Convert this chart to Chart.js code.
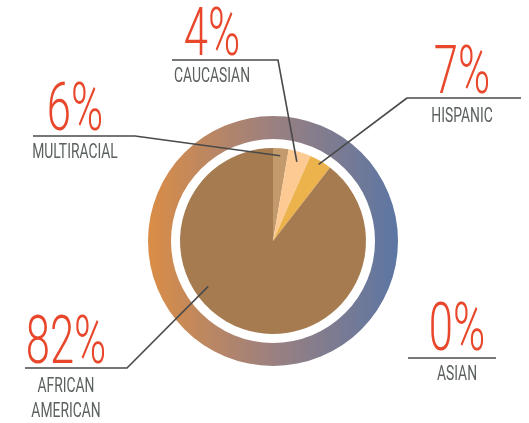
<!DOCTYPE html>
<html>
<head>
<meta charset="utf-8">
<script src="https://cdn.jsdelivr.net/npm/chart.js@4.4.1/dist/chart.umd.min.js"></script>
<style>
  html, body { margin:0; padding:0; background:#fff; }
  #wrap { width:529px; height:423px; position:relative; }
</style>
</head>
<body>
<div id="wrap"><canvas id="c"></canvas></div>
<script>
// ── DATA ─────────────────────────────────────────────
const groups      = ['MULTIRACIAL', 'CAUCASIAN', 'HISPANIC', 'AFRICAN AMERICAN', 'ASIAN'];
const shareLabels = ['6%', '4%', '7%', '82%', '0%'];
// slice sizes as drawn in the picture (they do not follow the printed percentages)
const sliceValues = [2.7, 3.9, 3.9, 89.5, 0];
const sliceColors = ['#c39a6b', '#fdca94', '#ecb24c', '#a67b50', '#7a8fb0'];

// ── LABEL LAYOUT ─────────────────────────────────────
// cx: centre of the text block, base: baseline of the big number,
// line: underline [x1, x2, y], lines: name rows with baselines,
// anchor: where the leader meets the pie (angle from top, share of radius)
const layout = [
  { cx: 75,  base: 130, line: [33, 135, 136],  lines: [['MULTIRACIAL', 158]],              anchor: { angle: null, r: 0.92 } },
  { cx: 212, base: 55,  line: [172, 278, 60],  lines: [['CAUCASIAN', 82]],                 anchor: { angle: null, r: 0.89 } },
  { cx: 462, base: 93,  line: [407, 521, 98],  lines: [['HISPANIC', 122]],                 anchor: { angle: null, r: 0.96 }, from: 'left' },
  { cx: 66,  base: 363, line: [25, 127, 368],  lines: [['AFRICAN', 392], ['AMERICAN', 417]], anchor: { angle: 235, r: 0.85 } },
  { cx: 457, base: 350, line: [408, 496, 358], lines: [['ASIAN', 380]],                    anchor: null }
];

const RED = '#e8472b', GREY = '#5b6160', LEAD = '#4a4a4a';
const SQUEEZE = 0.66;

function squeezedText(ctx, txt, x, y) {
  ctx.save();
  ctx.translate(x, y);
  ctx.scale(SQUEEZE, 1);
  ctx.textAlign = 'center';
  ctx.textBaseline = 'alphabetic';
  ctx.fillText(txt, 0, 0);
  ctx.restore();
}

const calloutPlugin = {
  id: 'callouts',
  afterDatasetsDraw(chart) {
    const ctx = chart.ctx;
    const meta = chart.getDatasetMeta(2);
    let cum = 0;
    const total = sliceValues.reduce((s, v) => s + v, 0);
    layout.forEach((L, i) => {
      const mid = (cum + sliceValues[i] / 2) / total * 360;
      cum += sliceValues[i];

      // leader line
      const [x1, x2, y] = L.line;
      ctx.save();
      ctx.strokeStyle = LEAD;
      ctx.lineWidth = 1.6;
      ctx.beginPath();
      ctx.moveTo(x1, y);
      ctx.lineTo(x2, y);
      if (L.anchor) {
        const arc = meta.data[i];
        const ang = (L.anchor.angle == null ? mid : L.anchor.angle) * Math.PI / 180;
        const R = arc.outerRadius * L.anchor.r;
        const ax = arc.x + R * Math.sin(ang), ay = arc.y - R * Math.cos(ang);
        if (L.from === 'left') { ctx.moveTo(x1, y); }
        ctx.lineTo(ax, ay);
      }
      ctx.stroke();
      ctx.restore();

      // big number
      ctx.fillStyle = RED;
      ctx.font = '300 66px Roboto, "DejaVu Sans", sans-serif';
      squeezedText(ctx, shareLabels[i], L.cx, L.base);

      // group name
      ctx.fillStyle = GREY;
      ctx.font = '21px Roboto, "DejaVu Sans", sans-serif';
      L.lines.forEach(([t, b]) => squeezedText(ctx, t, L.cx, b));
    });
  }
};

new Chart(document.getElementById('c'), {
  type: 'doughnut',
  data: {
    labels: groups,
    datasets: [
      {
        data: [1],
        weight: 23,
        borderWidth: 0,
        backgroundColor: (c) => {
          const a = c.chart.chartArea;
          if (!a) return '#9a8080';
          const g = c.chart.ctx.createLinearGradient(a.left, 0, a.right, 0);
          g.addColorStop(0, '#da8d46');
          g.addColorStop(0.5, '#9b8080');
          g.addColorStop(1, '#5c76a3');
          return g;
        }
      },
      { data: [1], weight: 9, borderWidth: 0, backgroundColor: 'rgba(0,0,0,0)' },
      { data: sliceValues, weight: 93, borderWidth: 0, backgroundColor: sliceColors }
    ]
  },
  options: {
    responsive: true,
    maintainAspectRatio: false,
    animation: false,
    cutout: 0,
    layout: { padding: { left: 148, top: 116, right: 131, bottom: 57 } },
    plugins: { legend: { display: false }, tooltip: { enabled: false } }
  },
  plugins: [calloutPlugin]
});
</script>
</body>
</html>
